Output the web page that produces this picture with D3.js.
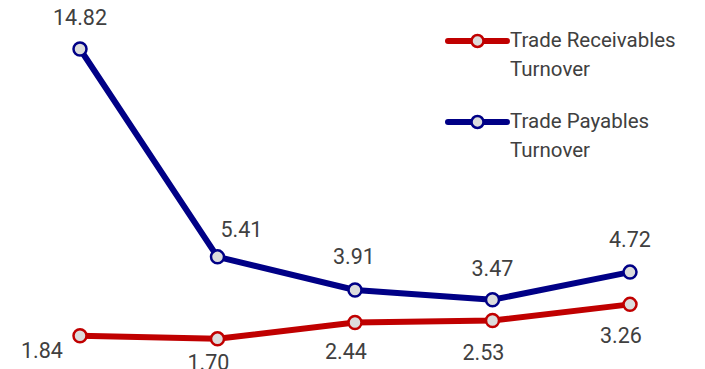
<!DOCTYPE html>
<html>
<head>
<meta charset="utf-8">
<script src="https://cdn.jsdelivr.net/npm/d3@7"></script>
<style>
  html, body { margin: 0; padding: 0; background: #fff; }
  text { font-family: Roboto, "Liberation Sans", sans-serif; fill: #404040; }
</style>
</head>
<body>
<svg id="chart" width="705" height="369"></svg>
<script>
// data
var periods = ["P1", "P2", "P3", "P4", "P5"];
var receivables = [1.84, 1.70, 2.44, 2.53, 3.26];
var payables = [14.82, 5.41, 3.91, 3.47, 4.72];
var seriesNames = ["Trade Receivables Turnover", "Trade Payables Turnover"];
var legendLines = [["Trade Receivables", "Turnover"], ["Trade Payables", "Turnover"]];

// label nudges (px) so the value labels sit clear of the lines
var recvNudge = [[-38, 22], [-9, 31], [-9, 37], [-9, 39], [-9, 39]];
var payNudge = [[0, -24], [24, -20], [-1, -26], [0, -24], [0, -25]];

var svg = d3.select("#chart");

var x = d3.scalePoint()
    .domain(periods)
    .range([80, 630]);

var y = d3.scaleLinear()
    .domain([0, 16])
    .range([376.4, 22.9]);

var series = [
    { name: seriesNames[0], values: receivables, color: "#c00000", nudge: recvNudge },
    { name: seriesNames[1], values: payables, color: "#000086", nudge: payNudge }
];

var line = d3.line()
    .x(function(d, i) { return x(periods[i]); })
    .y(function(d) { return y(d); });

var g = svg.selectAll("g.series")
    .data(series)
    .enter()
    .append("g")
    .attr("class", "series");

g.append("path")
    .attr("d", function(d) { return line(d.values); })
    .attr("fill", "none")
    .attr("stroke", function(d) { return d.color; })
    .attr("stroke-width", 6)
    .attr("stroke-linejoin", "round");

g.each(function(s) {
    var sel = d3.select(this);
    sel.selectAll("circle")
        .data(s.values)
        .enter()
        .append("circle")
        .attr("cx", function(d, i) { return x(periods[i]); })
        .attr("cy", function(d) { return y(d); })
        .attr("r", 6.5)
        .attr("fill", "#dcdcdc")
        .attr("stroke", s.color)
        .attr("stroke-width", 2.5);

    sel.selectAll("text")
        .data(s.values)
        .enter()
        .append("text")
        .attr("x", function(d, i) { return x(periods[i]) + s.nudge[i][0]; })
        .attr("y", function(d, i) { return y(d) + s.nudge[i][1]; })
        .attr("text-anchor", "middle")
        .style("font-size", "21.5px")
        .text(function(d) { return d.toFixed(2); });
});

/* ------- LEGEND -------*/
var legend = svg.append("g")
    .attr("transform", "translate(448,41)");

var item = legend.selectAll("g")
    .data(series)
    .enter()
    .append("g")
    .attr("transform", function(d, i) { return "translate(0," + (i * 81) + ")"; });

item.append("line")
    .attr("x1", 0).attr("x2", 59)
    .attr("y1", 0).attr("y2", 0)
    .attr("stroke", function(d) { return d.color; })
    .attr("stroke-width", 6)
    .attr("stroke-linecap", "round");

item.append("circle")
    .attr("cx", 29.5).attr("cy", 0)
    .attr("r", 6)
    .attr("fill", "#dcdcdc")
    .attr("stroke", function(d) { return d.color; })
    .attr("stroke-width", 2.5);

item.append("text")
    .attr("x", 62)
    .attr("y", 6)
    .style("font-size", "20.5px")
    .selectAll("tspan")
    .data(function(d, i) { return legendLines[i]; })
    .enter()
    .append("tspan")
    .attr("x", 62)
    .attr("dy", function(d, i) { return i === 0 ? 0 : 28.5; })
    .text(function(d) { return d; });
</script>
</body>
</html>
